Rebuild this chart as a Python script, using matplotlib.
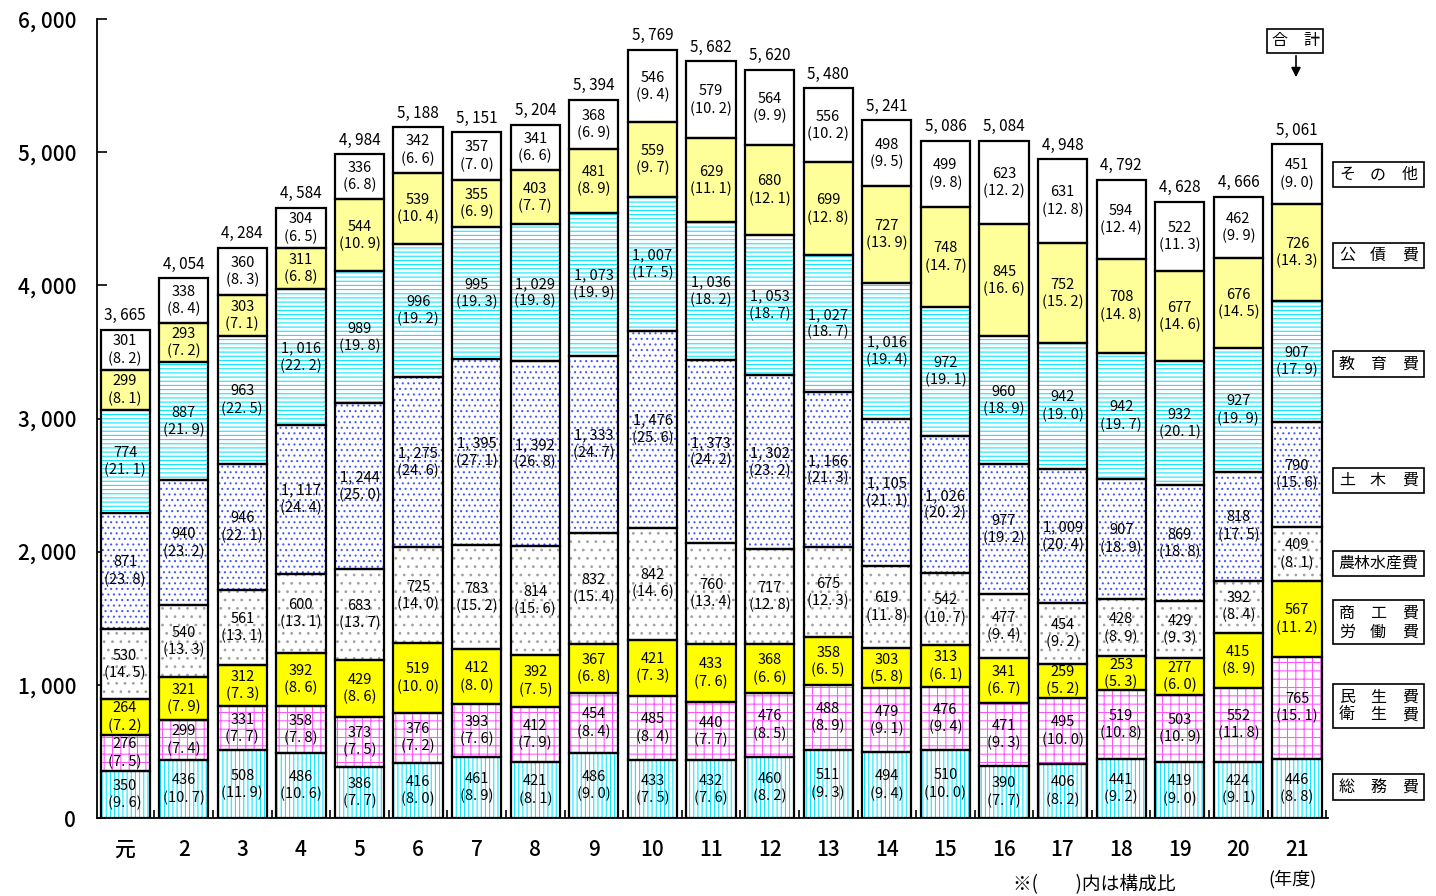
import matplotlib
matplotlib.use("Agg")
import matplotlib.pyplot as plt
from matplotlib.patches import Rectangle, FancyArrowPatch
import numpy as np

plt.rcParams['font.family'] = ['Noto Sans CJK JP', 'DejaVu Sans']
plt.rcParams['hatch.linewidth'] = 0.75

years = ["元", "2", "3", "4", "5", "6", "7", "8", "9", "10", "11", "12", "13",
         "14", "15", "16", "17", "18", "19", "20", "21"]

totals = [3665, 4054, 4284, 4584, 4984, 5188, 5151, 5204, 5394, 5769, 5682,
          5620, 5480, 5241, 5086, 5084, 4948, 4792, 4628, 4666, 5061]

# bottom -> top
somu = [350, 436, 508, 486, 386, 416, 461, 421, 486, 433, 432, 460, 511, 494, 510, 390, 406, 441, 419, 424, 446]
somu_p = [9.6, 10.7, 11.9, 10.6, 7.7, 8.0, 8.9, 8.1, 9.0, 7.5, 7.6, 8.2, 9.3, 9.4, 10.0, 7.7, 8.2, 9.2, 9.0, 9.1, 8.8]
minsei = [276, 299, 331, 358, 373, 376, 393, 412, 454, 485, 440, 476, 488, 479, 476, 471, 495, 519, 503, 552, 765]
minsei_p = [7.5, 7.4, 7.7, 7.8, 7.5, 7.2, 7.6, 7.9, 8.4, 8.4, 7.7, 8.5, 8.9, 9.1, 9.4, 9.3, 10.0, 10.8, 10.9, 11.8, 15.1]
shoko = [264, 321, 312, 392, 429, 519, 412, 392, 367, 421, 433, 368, 358, 303, 313, 341, 259, 253, 277, 415, 567]
shoko_p = [7.2, 7.9, 7.3, 8.6, 8.6, 10.0, 8.0, 7.5, 6.8, 7.3, 7.6, 6.6, 6.5, 5.8, 6.1, 6.7, 5.2, 5.3, 6.0, 8.9, 11.2]
norin = [530, 540, 561, 600, 683, 725, 783, 814, 832, 842, 760, 717, 675, 619, 542, 477, 454, 428, 429, 392, 409]
norin_p = [14.5, 13.3, 13.1, 13.1, 13.7, 14.0, 15.2, 15.6, 15.4, 14.6, 13.4, 12.8, 12.3, 11.8, 10.7, 9.4, 9.2, 8.9, 9.3, 8.4, 8.1]
doboku = [871, 940, 946, 1117, 1244, 1275, 1395, 1392, 1333, 1476, 1373, 1302, 1166, 1105, 1026, 977, 1009, 907, 869, 818, 790]
doboku_p = [23.8, 23.2, 22.1, 24.4, 25.0, 24.6, 27.1, 26.8, 24.7, 25.6, 24.2, 23.2, 21.3, 21.1, 20.2, 19.2, 20.4, 18.9, 18.8, 17.5, 15.6]
kyoiku = [774, 887, 963, 1016, 989, 996, 995, 1029, 1073, 1007, 1036, 1053, 1027, 1016, 972, 960, 942, 942, 932, 927, 907]
kyoiku_p = [21.1, 21.9, 22.5, 22.2, 19.8, 19.2, 19.3, 19.8, 19.9, 17.5, 18.2, 18.7, 18.7, 19.4, 19.1, 18.9, 19.0, 19.7, 20.1, 19.9, 17.9]
kosai = [299, 293, 303, 311, 544, 539, 355, 403, 481, 559, 629, 680, 699, 727, 748, 845, 752, 708, 677, 676, 726]
kosai_p = [8.1, 7.2, 7.1, 6.8, 10.9, 10.4, 6.9, 7.7, 8.9, 9.7, 11.1, 12.1, 12.8, 13.9, 14.7, 16.6, 15.2, 14.8, 14.6, 14.5, 14.3]
sonota = [301, 338, 360, 304, 336, 342, 357, 341, 368, 546, 579, 564, 556, 498, 499, 623, 631, 594, 522, 462, 451]
sonota_p = [8.2, 8.4, 8.3, 6.5, 6.8, 6.6, 7.0, 6.6, 6.9, 9.4, 10.2, 9.9, 10.2, 9.5, 9.8, 12.2, 12.8, 12.4, 11.3, 9.9, 9.0]

series = [somu, minsei, shoko, norin, doboku, kyoiku, kosai, sonota]
series_p = [somu_p, minsei_p, shoko_p, norin_p, doboku_p, kyoiku_p, kosai_p, sonota_p]
# (facecolor, hatch, hatch colour)
styles = [
    ("white", "||||", "#00E8FF"),
    ("white", "++", "#FF55FF"),
    ("#FFFF00", None, None),
    ("white", "..", "#A0A0A0"),
    ("white", "...", "#4455FF"),
    ("white", "----", "#00E8FF"),
    ("#FFFF99", None, None),
    ("white", None, None),
]

W, H = 1436, 896
fig = plt.figure(figsize=(W / 100, H / 100), dpi=100)
ax = fig.add_axes([97 / W, 1 - 818 / H, (1328 - 97) / W, (818 - 19) / H])

x = np.arange(len(years))
bw = 0.84
bottom = np.zeros(len(years))
for vals, pcts, (fc, hatch, hc) in zip(series, series_p, styles):
    vals = np.array(vals, dtype=float)
    if hatch:
        ax.bar(x, vals, bw, bottom=bottom, color=fc, hatch=hatch,
               edgecolor=hc, linewidth=0, zorder=2)
    else:
        ax.bar(x, vals, bw, bottom=bottom, color=fc, linewidth=0, zorder=2)
    ax.bar(x, vals, bw, bottom=bottom, fill=False, edgecolor="black",
           linewidth=1.6, zorder=3)
    for xi, v, b, p in zip(x, vals, bottom, pcts):
        ym = b + v / 2
        ax.annotate(f"{int(v):,}".replace(",", ", "), xy=(xi, ym), xytext=(0, 6.2),
                    textcoords="offset points", ha="center", va="center",
                    fontsize=10.5, zorder=5)
        ax.annotate(f"({p:.1f})".replace(".", ". "), xy=(xi, ym), xytext=(0, -6.2),
                    textcoords="offset points", ha="center", va="center",
                    fontsize=10.5, zorder=5)
    bottom += vals

for xi, t in zip(x, totals):
    ax.annotate(f"{t:,}".replace(",", ", "), xy=(xi, t), xytext=(0, 4),
                textcoords="offset points", ha="center", va="bottom", fontsize=11)

ax.set_xlim(-0.48, 20.53)
ax.set_ylim(0, 6000)
for s in ["top", "right"]:
    ax.spines[s].set_visible(False)
ax.spines["left"].set_linewidth(1.3)
ax.spines["bottom"].set_linewidth(1.3)

yt = np.arange(0, 6001, 1000)
ax.set_yticks(yt)
ax.set_yticklabels([f"{v:,}".replace(",", ", ") for v in yt], fontsize=15,
                   fontweight="medium")
ax.tick_params(axis="y", direction="in", length=7, width=1.2, pad=15)
ax.set_xticks(x)
ax.set_xticklabels(years, fontsize=15, fontweight="medium")
ax.set_xticks(np.arange(0.5, 20.6, 1.0), minor=True)
ax.tick_params(axis="x", which="major", length=0, pad=15)
ax.tick_params(axis="x", which="minor", direction="in", length=6, width=1.2)


def fx(px):
    return px / W


def fy(py):
    return 1 - py / H


def box(x0, y0, x1, y1):
    fig.patches.append(Rectangle((fx(x0), fy(y1)), fx(x1) - fx(x0), fy(y0) - fy(y1),
                                 transform=fig.transFigure, fill=False,
                                 edgecolor="black", linewidth=1.2))


def spread(chars, y, xs, size=11.5):
    for c, xx in zip(chars, xs):
        fig.text(fx(xx), fy(y), c, ha="center", va="center", fontsize=size)


x3 = [1347, 1378, 1410]
legend_single = [("その他", 162, 187), ("公債費", 243, 268), ("教育費", 351, 377),
                 ("土木費", 468, 493), ("総務費", 774, 800)]
for lab, y0, y1 in legend_single:
    box(1333, y0, 1424, y1)
    spread(lab, (y0 + y1) / 2, x3)

box(1333, 551, 1424, 576)
fig.text(fx(1378.5), fy(563.5), "農林水産費", ha="center", va="center", fontsize=11.5)

box(1333, 600, 1424, 644)
spread("商工費", 613, x3)
spread("労働費", 632, x3)
box(1333, 684, 1424, 728)
spread("民生費", 697, x3)
spread("衛生費", 715, x3)

box(1267, 29, 1323, 53)
spread("合計", 41, [1279, 1311])
fig.patches.append(FancyArrowPatch((fx(1296), fy(53)), (fx(1296), fy(80)),
                                   transform=fig.transFigure, arrowstyle="-|>",
                                   mutation_scale=14, color="black", linewidth=1.2))

fig.text(fx(1013), fy(885), "※(　　)内は構成比", ha="left", va="center", fontsize=13.5)
fig.text(fx(1293), fy(879), "(年度)", ha="center", va="center", fontsize=13)

fig.savefig("out.png", dpi=100)
